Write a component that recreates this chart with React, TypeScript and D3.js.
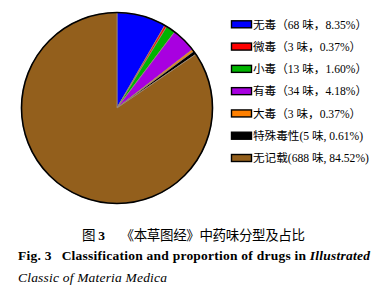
import React from "react";
import * as d3 from "d3";

const categories = ["无毒", "微毒", "小毒", "有毒", "大毒", "特殊毒性", "无记载"];
const counts = [68, 3, 13, 34, 3, 5, 688];
const percents = ["8.35%", "0.37%", "1.60%", "4.18%", "0.37%", "0.61%", "84.52%"];
const colors = ["#0000ff", "#ff0000", "#00b400", "#a800e0", "#ff8000", "#000000", "#935f1c"];

const W = 384;
const H = 296;
const cx = 117;
const cy = 108;
const R = 95.5;

export default function App() {
  const pie = d3.pie<number>().sort(null).value((d) => d)(counts);
  const arc = d3.arc<d3.PieArcDatum<number>>().innerRadius(0).outerRadius(R);
  const legendY = d3.scalePoint<string>().domain(categories).range([24.3, 158]);
  const serif = "'Liberation Serif', 'Times New Roman', 'Noto Sans CJK SC', serif";
  return (
    <svg width={W} height={H} style={{ position: "absolute", left: 0, top: 0, background: "#fff" }}>
      <g transform={`translate(${cx},${cy})`}>
        {pie.map((p, i) => (
          <path key={i} d={arc(p) || ""} fill={colors[i]} stroke="#9a8a7a" strokeWidth={0.8} />
        ))}
        <circle r={R} fill="none" stroke="#000" strokeWidth={1.6} />
      </g>
      <g fontFamily={serif} fontSize={11.6} fill="#000">
        {categories.map((c, i) => {
          const y = legendY(c)!;
          const label =
            i < 5
              ? `${c}（${counts[i]} 味，${percents[i]}）`
              : `${c}(${counts[i]} 味, ${percents[i]})`;
          return (
            <g key={c}>
              <rect x={231.5} y={y - 3.5} width={20} height={7} fill={colors[i]} stroke="#000" strokeWidth={1.4} />
              <text x={253} y={y + 4.2}>{label}</text>
            </g>
          );
        })}
      </g>
      <text x={193.5} y={239.5} textAnchor="middle" fontFamily={serif} fontSize={13.5} textLength={223} lengthAdjust="spacing">
        <tspan>图 </tspan>
        <tspan fontWeight="bold">3</tspan>
        <tspan dx={16}>《本草图经》中药味分型及占比</tspan>
      </text>
      <text x={18} y={259.5} fontFamily={serif} fontSize={13.5} fontWeight="bold" textLength={352} lengthAdjust="spacing">
        Fig. 3<tspan dx={10}>Classification and proportion of drugs in </tspan>
        <tspan fontStyle="italic">Illustrated</tspan>
      </text>
      <text x={18} y={281.5} fontFamily={serif} fontSize={13.5} fontStyle="italic" textLength={149} lengthAdjust="spacing">
        Classic of Materia Medica
      </text>
    </svg>
  );
}
